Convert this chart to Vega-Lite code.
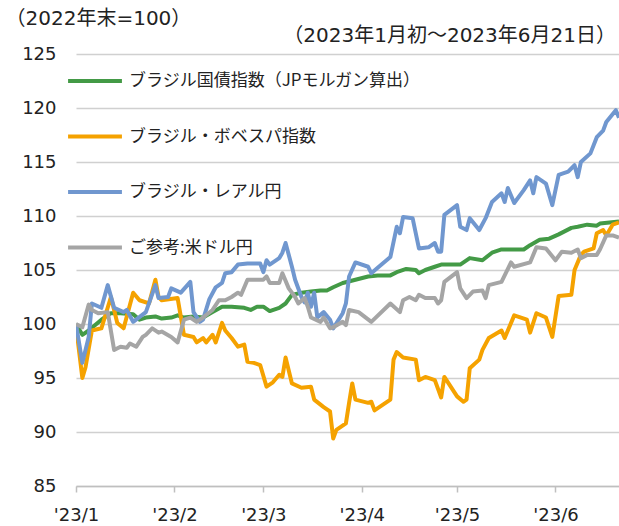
{
  "$schema": "https://vega.github.io/schema/vega-lite/v6.json",
  "width": 543,
  "height": 432,
  "autosize": {"type": "none"},
  "padding": {"left": 76, "top": 54, "right": 0, "bottom": 40},
  "background": "white",
  "title": {"text": "（2023年1月初～2023年6月21日）", "anchor": "end", "orient": "top", "offset": 10, "dx": -3, "dy": 48, "fontSize": 20, "font": "DejaVu Sans, Noto Sans CJK JP", "fontWeight": "normal", "color": "#222"},
  "config": {"view": {"stroke": null}},
  "data": {"values": [
    {"k":"A","d":"2023-01-01","v":100.0},{"k":"A","d":"2023-01-03","v":99.0},{"k":"A","d":"2023-01-05","v":99.4},{"k":"A","d":"2023-01-09","v":100.4},{"k":"A","d":"2023-01-12","v":101.0},{"k":"A","d":"2023-01-15","v":101.0},{"k":"A","d":"2023-01-19","v":100.9},{"k":"A","d":"2023-01-21","v":100.4},{"k":"A","d":"2023-01-23","v":100.6},{"k":"A","d":"2023-01-26","v":100.7},{"k":"A","d":"2023-01-28","v":100.5},{"k":"A","d":"2023-01-31","v":100.6},{"k":"A","d":"2023-02-02","v":100.8},{"k":"A","d":"2023-02-04","v":100.6},{"k":"A","d":"2023-02-07","v":100.7},{"k":"A","d":"2023-02-10","v":100.6},{"k":"A","d":"2023-02-13","v":101.1},{"k":"A","d":"2023-02-16","v":101.6},{"k":"A","d":"2023-02-19","v":101.6},{"k":"A","d":"2023-02-23","v":101.5},{"k":"A","d":"2023-02-25","v":101.3},{"k":"A","d":"2023-02-27","v":101.6},{"k":"A","d":"2023-03-01","v":101.6},{"k":"A","d":"2023-03-03","v":101.2},{"k":"A","d":"2023-03-06","v":101.5},{"k":"A","d":"2023-03-08","v":101.9},{"k":"A","d":"2023-03-10","v":102.7},{"k":"A","d":"2023-03-13","v":102.9},{"k":"A","d":"2023-03-16","v":103.0},{"k":"A","d":"2023-03-19","v":103.1},{"k":"A","d":"2023-03-21","v":103.1},{"k":"A","d":"2023-03-23","v":103.4},{"k":"A","d":"2023-03-26","v":103.8},{"k":"A","d":"2023-03-30","v":104.1},{"k":"A","d":"2023-04-03","v":104.4},{"k":"A","d":"2023-04-06","v":104.5},{"k":"A","d":"2023-04-10","v":104.5},{"k":"A","d":"2023-04-12","v":104.8},{"k":"A","d":"2023-04-15","v":105.1},{"k":"A","d":"2023-04-18","v":105.0},{"k":"A","d":"2023-04-19","v":104.7},{"k":"A","d":"2023-04-21","v":105.0},{"k":"A","d":"2023-04-24","v":105.3},{"k":"A","d":"2023-04-26","v":105.5},{"k":"A","d":"2023-04-29","v":105.5},{"k":"A","d":"2023-05-02","v":105.5},{"k":"A","d":"2023-05-05","v":106.1},{"k":"A","d":"2023-05-09","v":105.9},{"k":"A","d":"2023-05-12","v":106.6},{"k":"A","d":"2023-05-15","v":106.9},{"k":"A","d":"2023-05-18","v":106.9},{"k":"A","d":"2023-05-22","v":106.9},{"k":"A","d":"2023-05-24","v":107.3},{"k":"A","d":"2023-05-27","v":107.8},{"k":"A","d":"2023-05-30","v":107.9},{"k":"A","d":"2023-06-02","v":108.3},{"k":"A","d":"2023-06-06","v":108.9},{"k":"A","d":"2023-06-08","v":109.0},{"k":"A","d":"2023-06-11","v":109.2},{"k":"A","d":"2023-06-14","v":109.1},{"k":"A","d":"2023-06-15","v":109.3},{"k":"A","d":"2023-06-18","v":109.4},{"k":"A","d":"2023-06-21","v":109.5},
    {"k":"B","d":"2023-01-01","v":99.8},{"k":"B","d":"2023-01-03","v":95.0},{"k":"B","d":"2023-01-04","v":96.0},{"k":"B","d":"2023-01-06","v":99.4},{"k":"B","d":"2023-01-09","v":99.6},{"k":"B","d":"2023-01-12","v":102.5},{"k":"B","d":"2023-01-14","v":100.1},{"k":"B","d":"2023-01-16","v":99.6},{"k":"B","d":"2023-01-19","v":102.9},{"k":"B","d":"2023-01-21","v":102.2},{"k":"B","d":"2023-01-24","v":101.9},{"k":"B","d":"2023-01-26","v":104.1},{"k":"B","d":"2023-01-27","v":102.5},{"k":"B","d":"2023-01-28","v":102.2},{"k":"B","d":"2023-02-02","v":102.4},{"k":"B","d":"2023-02-04","v":99.0},{"k":"B","d":"2023-02-07","v":98.8},{"k":"B","d":"2023-02-08","v":98.3},{"k":"B","d":"2023-02-10","v":98.7},{"k":"B","d":"2023-02-11","v":98.3},{"k":"B","d":"2023-02-13","v":99.0},{"k":"B","d":"2023-02-14","v":98.3},{"k":"B","d":"2023-02-16","v":100.1},{"k":"B","d":"2023-02-17","v":99.4},{"k":"B","d":"2023-02-19","v":98.7},{"k":"B","d":"2023-02-21","v":97.9},{"k":"B","d":"2023-02-23","v":98.1},{"k":"B","d":"2023-02-24","v":96.5},{"k":"B","d":"2023-02-26","v":96.4},{"k":"B","d":"2023-02-28","v":96.2},{"k":"B","d":"2023-03-02","v":94.2},{"k":"B","d":"2023-03-04","v":94.6},{"k":"B","d":"2023-03-06","v":95.3},{"k":"B","d":"2023-03-07","v":95.1},{"k":"B","d":"2023-03-08","v":96.9},{"k":"B","d":"2023-03-10","v":94.5},{"k":"B","d":"2023-03-13","v":94.1},{"k":"B","d":"2023-03-16","v":94.2},{"k":"B","d":"2023-03-17","v":93.0},{"k":"B","d":"2023-03-20","v":92.3},{"k":"B","d":"2023-03-22","v":91.9},{"k":"B","d":"2023-03-23","v":89.4},{"k":"B","d":"2023-03-24","v":90.2},{"k":"B","d":"2023-03-27","v":90.8},{"k":"B","d":"2023-03-28","v":92.7},{"k":"B","d":"2023-03-29","v":94.5},{"k":"B","d":"2023-03-30","v":93.0},{"k":"B","d":"2023-04-03","v":92.7},{"k":"B","d":"2023-04-04","v":92.8},{"k":"B","d":"2023-04-05","v":92.0},{"k":"B","d":"2023-04-10","v":93.0},{"k":"B","d":"2023-04-11","v":96.7},{"k":"B","d":"2023-04-12","v":97.4},{"k":"B","d":"2023-04-14","v":96.9},{"k":"B","d":"2023-04-18","v":96.7},{"k":"B","d":"2023-04-19","v":94.8},{"k":"B","d":"2023-04-21","v":95.1},{"k":"B","d":"2023-04-24","v":94.8},{"k":"B","d":"2023-04-26","v":93.2},{"k":"B","d":"2023-04-27","v":95.1},{"k":"B","d":"2023-05-01","v":93.3},{"k":"B","d":"2023-05-03","v":92.8},{"k":"B","d":"2023-05-04","v":93.0},{"k":"B","d":"2023-05-05","v":95.9},{"k":"B","d":"2023-05-08","v":96.7},{"k":"B","d":"2023-05-09","v":97.6},{"k":"B","d":"2023-05-11","v":98.7},{"k":"B","d":"2023-05-15","v":99.4},{"k":"B","d":"2023-05-16","v":98.7},{"k":"B","d":"2023-05-19","v":100.8},{"k":"B","d":"2023-05-23","v":100.4},{"k":"B","d":"2023-05-24","v":99.2},{"k":"B","d":"2023-05-26","v":101.0},{"k":"B","d":"2023-05-29","v":100.6},{"k":"B","d":"2023-05-31","v":98.8},{"k":"B","d":"2023-06-02","v":102.6},{"k":"B","d":"2023-06-06","v":102.7},{"k":"B","d":"2023-06-07","v":105.0},{"k":"B","d":"2023-06-09","v":106.4},{"k":"B","d":"2023-06-10","v":106.7},{"k":"B","d":"2023-06-13","v":107.0},{"k":"B","d":"2023-06-14","v":108.4},{"k":"B","d":"2023-06-16","v":108.7},{"k":"B","d":"2023-06-17","v":108.2},{"k":"B","d":"2023-06-19","v":109.2},{"k":"B","d":"2023-06-21","v":109.4},
    {"k":"C","d":"2023-01-01","v":100.0},{"k":"C","d":"2023-01-03","v":96.4},{"k":"C","d":"2023-01-05","v":98.8},{"k":"C","d":"2023-01-06","v":101.9},{"k":"C","d":"2023-01-09","v":101.5},{"k":"C","d":"2023-01-11","v":103.6},{"k":"C","d":"2023-01-13","v":101.5},{"k":"C","d":"2023-01-16","v":101.1},{"k":"C","d":"2023-01-17","v":101.3},{"k":"C","d":"2023-01-19","v":100.2},{"k":"C","d":"2023-01-23","v":101.1},{"k":"C","d":"2023-01-26","v":103.6},{"k":"C","d":"2023-01-27","v":102.4},{"k":"C","d":"2023-01-30","v":102.5},{"k":"C","d":"2023-01-31","v":103.3},{"k":"C","d":"2023-02-03","v":102.9},{"k":"C","d":"2023-02-06","v":103.9},{"k":"C","d":"2023-02-07","v":101.1},{"k":"C","d":"2023-02-09","v":100.2},{"k":"C","d":"2023-02-10","v":100.4},{"k":"C","d":"2023-02-12","v":102.3},{"k":"C","d":"2023-02-14","v":103.4},{"k":"C","d":"2023-02-16","v":103.8},{"k":"C","d":"2023-02-17","v":104.7},{"k":"C","d":"2023-02-19","v":104.8},{"k":"C","d":"2023-02-21","v":105.5},{"k":"C","d":"2023-02-24","v":105.6},{"k":"C","d":"2023-02-28","v":105.6},{"k":"C","d":"2023-03-01","v":104.8},{"k":"C","d":"2023-03-02","v":105.9},{"k":"C","d":"2023-03-03","v":105.5},{"k":"C","d":"2023-03-06","v":106.1},{"k":"C","d":"2023-03-07","v":106.6},{"k":"C","d":"2023-03-08","v":107.5},{"k":"C","d":"2023-03-10","v":105.3},{"k":"C","d":"2023-03-11","v":104.1},{"k":"C","d":"2023-03-13","v":102.5},{"k":"C","d":"2023-03-14","v":102.0},{"k":"C","d":"2023-03-15","v":102.9},{"k":"C","d":"2023-03-16","v":101.6},{"k":"C","d":"2023-03-17","v":102.9},{"k":"C","d":"2023-03-18","v":100.6},{"k":"C","d":"2023-03-20","v":101.1},{"k":"C","d":"2023-03-22","v":100.4},{"k":"C","d":"2023-03-23","v":99.6},{"k":"C","d":"2023-03-26","v":101.0},{"k":"C","d":"2023-03-27","v":101.9},{"k":"C","d":"2023-03-28","v":104.4},{"k":"C","d":"2023-03-30","v":105.7},{"k":"C","d":"2023-04-03","v":105.3},{"k":"C","d":"2023-04-04","v":104.7},{"k":"C","d":"2023-04-06","v":105.2},{"k":"C","d":"2023-04-10","v":106.2},{"k":"C","d":"2023-04-12","v":109.0},{"k":"C","d":"2023-04-13","v":108.4},{"k":"C","d":"2023-04-14","v":109.9},{"k":"C","d":"2023-04-17","v":109.8},{"k":"C","d":"2023-04-19","v":107.0},{"k":"C","d":"2023-04-22","v":107.1},{"k":"C","d":"2023-04-24","v":107.5},{"k":"C","d":"2023-04-25","v":106.7},{"k":"C","d":"2023-04-26","v":106.7},{"k":"C","d":"2023-04-27","v":110.1},{"k":"C","d":"2023-05-01","v":111.0},{"k":"C","d":"2023-05-02","v":109.0},{"k":"C","d":"2023-05-04","v":108.7},{"k":"C","d":"2023-05-05","v":109.8},{"k":"C","d":"2023-05-08","v":108.7},{"k":"C","d":"2023-05-10","v":109.8},{"k":"C","d":"2023-05-12","v":111.3},{"k":"C","d":"2023-05-15","v":112.1},{"k":"C","d":"2023-05-16","v":111.3},{"k":"C","d":"2023-05-17","v":112.6},{"k":"C","d":"2023-05-19","v":111.2},{"k":"C","d":"2023-05-22","v":112.4},{"k":"C","d":"2023-05-24","v":113.3},{"k":"C","d":"2023-05-25","v":112.1},{"k":"C","d":"2023-05-26","v":113.6},{"k":"C","d":"2023-05-29","v":113.0},{"k":"C","d":"2023-05-31","v":111.0},{"k":"C","d":"2023-06-02","v":113.8},{"k":"C","d":"2023-06-05","v":114.1},{"k":"C","d":"2023-06-07","v":114.7},{"k":"C","d":"2023-06-08","v":113.6},{"k":"C","d":"2023-06-09","v":115.0},{"k":"C","d":"2023-06-12","v":115.8},{"k":"C","d":"2023-06-14","v":117.3},{"k":"C","d":"2023-06-16","v":117.9},{"k":"C","d":"2023-06-17","v":118.7},{"k":"C","d":"2023-06-20","v":119.8},{"k":"C","d":"2023-06-21","v":119.1},
    {"k":"D","d":"2023-01-01","v":100.0},{"k":"D","d":"2023-01-03","v":99.7},{"k":"D","d":"2023-01-05","v":101.8},{"k":"D","d":"2023-01-06","v":101.3},{"k":"D","d":"2023-01-08","v":101.0},{"k":"D","d":"2023-01-11","v":101.1},{"k":"D","d":"2023-01-13","v":97.6},{"k":"D","d":"2023-01-15","v":97.9},{"k":"D","d":"2023-01-17","v":97.8},{"k":"D","d":"2023-01-18","v":98.2},{"k":"D","d":"2023-01-20","v":97.9},{"k":"D","d":"2023-01-22","v":98.8},{"k":"D","d":"2023-01-23","v":99.0},{"k":"D","d":"2023-01-25","v":99.6},{"k":"D","d":"2023-01-27","v":99.2},{"k":"D","d":"2023-01-28","v":99.3},{"k":"D","d":"2023-01-31","v":98.8},{"k":"D","d":"2023-02-02","v":98.3},{"k":"D","d":"2023-02-04","v":100.4},{"k":"D","d":"2023-02-06","v":100.6},{"k":"D","d":"2023-02-08","v":100.2},{"k":"D","d":"2023-02-09","v":100.4},{"k":"D","d":"2023-02-10","v":100.6},{"k":"D","d":"2023-02-13","v":101.3},{"k":"D","d":"2023-02-15","v":102.2},{"k":"D","d":"2023-02-17","v":102.2},{"k":"D","d":"2023-02-19","v":102.5},{"k":"D","d":"2023-02-21","v":102.9},{"k":"D","d":"2023-02-22","v":102.7},{"k":"D","d":"2023-02-24","v":104.1},{"k":"D","d":"2023-02-26","v":104.1},{"k":"D","d":"2023-03-01","v":104.1},{"k":"D","d":"2023-03-02","v":104.4},{"k":"D","d":"2023-03-03","v":103.8},{"k":"D","d":"2023-03-06","v":103.8},{"k":"D","d":"2023-03-07","v":104.7},{"k":"D","d":"2023-03-09","v":103.3},{"k":"D","d":"2023-03-11","v":102.5},{"k":"D","d":"2023-03-12","v":101.9},{"k":"D","d":"2023-03-14","v":102.4},{"k":"D","d":"2023-03-15","v":101.6},{"k":"D","d":"2023-03-16","v":100.6},{"k":"D","d":"2023-03-19","v":100.2},{"k":"D","d":"2023-03-20","v":100.6},{"k":"D","d":"2023-03-22","v":99.6},{"k":"D","d":"2023-03-23","v":99.7},{"k":"D","d":"2023-03-26","v":100.2},{"k":"D","d":"2023-03-27","v":99.9},{"k":"D","d":"2023-03-28","v":101.3},{"k":"D","d":"2023-03-31","v":101.1},{"k":"D","d":"2023-04-04","v":100.2},{"k":"D","d":"2023-04-10","v":101.9},{"k":"D","d":"2023-04-13","v":101.1},{"k":"D","d":"2023-04-14","v":102.2},{"k":"D","d":"2023-04-16","v":102.5},{"k":"D","d":"2023-04-18","v":102.2},{"k":"D","d":"2023-04-19","v":102.7},{"k":"D","d":"2023-04-21","v":102.4},{"k":"D","d":"2023-04-24","v":102.4},{"k":"D","d":"2023-04-25","v":101.9},{"k":"D","d":"2023-04-26","v":102.2},{"k":"D","d":"2023-04-27","v":103.9},{"k":"D","d":"2023-05-01","v":104.8},{"k":"D","d":"2023-05-02","v":103.3},{"k":"D","d":"2023-05-04","v":102.4},{"k":"D","d":"2023-05-06","v":103.0},{"k":"D","d":"2023-05-09","v":103.1},{"k":"D","d":"2023-05-10","v":102.4},{"k":"D","d":"2023-05-11","v":103.6},{"k":"D","d":"2023-05-15","v":103.9},{"k":"D","d":"2023-05-18","v":105.7},{"k":"D","d":"2023-05-19","v":105.3},{"k":"D","d":"2023-05-24","v":105.7},{"k":"D","d":"2023-05-26","v":107.1},{"k":"D","d":"2023-05-29","v":107.0},{"k":"D","d":"2023-06-01","v":105.9},{"k":"D","d":"2023-06-03","v":106.7},{"k":"D","d":"2023-06-06","v":106.6},{"k":"D","d":"2023-06-08","v":106.9},{"k":"D","d":"2023-06-09","v":106.1},{"k":"D","d":"2023-06-11","v":106.4},{"k":"D","d":"2023-06-14","v":106.4},{"k":"D","d":"2023-06-15","v":106.9},{"k":"D","d":"2023-06-17","v":108.2},{"k":"D","d":"2023-06-19","v":108.2},{"k":"D","d":"2023-06-21","v":108.0}
  ]},
  "transform": [
    {"lookup": "k", "from": {"data": {"values": [
      {"k": "A", "name": "ブラジル国債指数（JPモルガン算出）"},
      {"k": "B", "name": "ブラジル・ボベスパ指数"},
      {"k": "C", "name": "ブラジル・レアル円"},
      {"k": "D", "name": "ご参考:米ドル円"}
    ]}, "key": "k", "fields": ["name"]}}
  ],
  "mark": {"type": "line", "strokeWidth": 4, "strokeJoin": "round", "clip": true},
  "encoding": {
    "x": {
      "field": "d", "type": "temporal",
      "scale": {"type": "utc", "domain": [{"year": 2023, "month": 1, "date": 1, "utc": true}, {"year": 2023, "month": 6, "date": 21, "utc": true}]},
      "axis": {
        "values": [
          {"year": 2023, "month": 1, "date": 1, "utc": true},
          {"year": 2023, "month": 2, "date": 1, "utc": true},
          {"year": 2023, "month": 3, "date": 1, "utc": true},
          {"year": 2023, "month": 4, "date": 1, "utc": true},
          {"year": 2023, "month": 5, "date": 1, "utc": true},
          {"year": 2023, "month": 6, "date": 1, "utc": true}
        ],
        "format": "'%y/%-m",
        "title": null,
        "grid": false,
        "labelFont": "DejaVu Sans",
        "labelFontSize": 18,
        "labelColor": "#222",
        "labelPadding": 14,
        "labelFlush": false,
        "labelOverlap": false,
        "domainColor": "#bfbfbf",
        "domainWidth": 1.5,
        "tickColor": "#bfbfbf",
        "tickSize": 6,
        "tickWidth": 1.5
      }
    },
    "y": {
      "field": "v", "type": "quantitative",
      "scale": {"domain": [85, 125], "nice": false, "zero": false},
      "axis": {
        "values": [85, 90, 95, 100, 105, 110, 115, 120, 125],
        "grid": true,
        "gridColor": "#d0d0d0",
        "gridWidth": 1.5,
        "domain": false,
        "ticks": false,
        "labelFont": "DejaVu Sans",
        "labelFontSize": 18,
        "labelColor": "#222",
        "labelPadding": 20,
        "title": "（2022年末=100）",
        "titleAngle": 0,
        "titleAlign": "left",
        "titleBaseline": "middle",
        "titleX": -71,
        "titleY": -36,
        "titleFont": "DejaVu Sans, Noto Sans CJK JP",
        "titleFontSize": 20,
        "titleFontWeight": "normal",
        "titleColor": "#222"
      }
    },
    "color": {
      "field": "name", "type": "nominal",
      "scale": {
        "domain": ["ブラジル国債指数（JPモルガン算出）", "ブラジル・ボベスパ指数", "ブラジル・レアル円", "ご参考:米ドル円"],
        "range": ["#439a46", "#f5a200", "#7097cf", "#a5a5a5"]
      },
      "legend": {
        "orient": "none",
        "legendX": -10,
        "legendY": -2,
        "title": null,
        "symbolType": "stroke",
        "symbolSize": 2900,
        "symbolStrokeWidth": 4,
        "labelFont": "Noto Sans CJK JP",
        "labelFontSize": 17,
        "labelColor": "#222",
        "labelOffset": 5,
        "labelLimit": 400,
        "rowPadding": 18.5,
        "padding": 0
      }
    }
  }
}
